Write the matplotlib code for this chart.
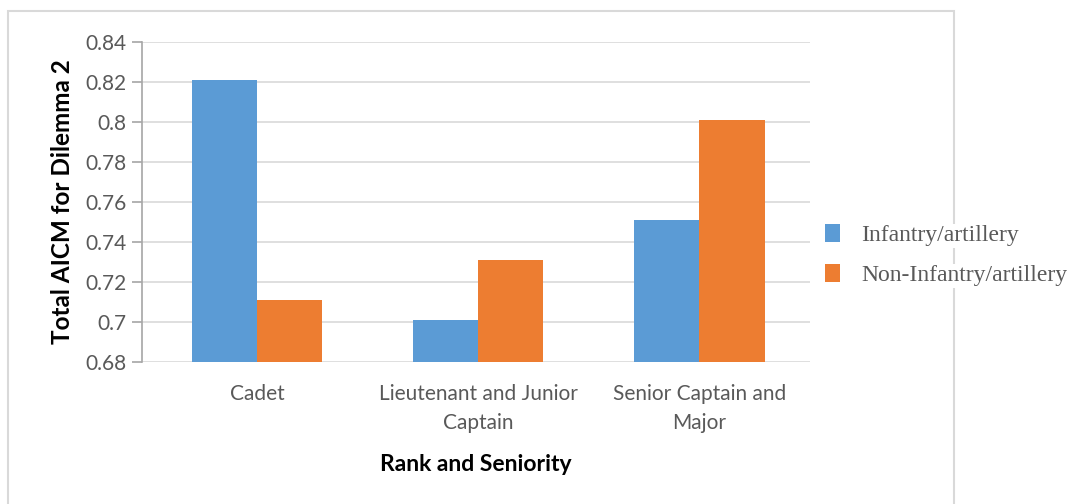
import numpy as np
import matplotlib.pyplot as plt
from matplotlib.patches import Rectangle

# values
categories = ['Cadet', 'Lieutenant and Junior\nCaptain', 'Senior Captain and\nMajor']
infantry = [0.821, 0.701, 0.751]
non_infantry = [0.711, 0.731, 0.801]
series_names = ['Infantry/artillery', 'Non-Infantry/artillery']
y_ticks = [0.68, 0.70, 0.72, 0.74, 0.76, 0.78, 0.80, 0.82, 0.84]
y_tick_labels = ['0.68', '0.7', '0.72', '0.74', '0.76', '0.78', '0.8', '0.82', '0.84']

blue = '#5b9bd5'
orange = '#ed7d31'
grey_text = '#595959'

plt.rcParams['font.family'] = ['Lato', 'DejaVu Sans']

fig = plt.figure(figsize=(10.74, 5.04), dpi=100)
ax = fig.add_axes([142 / 1074, 1 - 362 / 504, 668 / 1074, 320 / 504])

x = np.arange(len(categories))
w = 0.295
b1 = ax.bar(x - w / 2, infantry, w, color=blue, label=series_names[0], zorder=3)
b2 = ax.bar(x + w / 2, non_infantry, w, color=orange, label=series_names[1], zorder=3)

ax.set_xlim(-0.52, 2.5)
ax.set_ylim(0.68, 0.84)
ax.set_yticks(y_ticks)
ax.set_yticklabels(y_tick_labels)
ax.yaxis.grid(True, color='#d9d9d9', linewidth=1.2, zorder=0)
ax.set_axisbelow(True)

for s in ['top', 'right', 'bottom']:
    ax.spines[s].set_visible(False)
ax.spines['left'].set_color('#a6a6a6')
ax.spines['left'].set_linewidth(1.2)

ax.tick_params(axis='y', colors='#a6a6a6', length=7, width=1.2, labelsize=15,
               labelcolor=grey_text, pad=4)
ax.set_xticks(x)
ax.set_xticklabels(categories, fontsize=15, color=grey_text, linespacing=1.55)
ax.tick_params(axis='x', length=0, pad=16)

ax.set_ylabel('Total AICM for Dilemma 2', fontsize=17.5, fontweight='bold', labelpad=8)
ax.set_xlabel('Rank and Seniority', fontsize=16.5, fontweight='bold', labelpad=15)

# light frame around the chart
fig.patches.append(Rectangle((8 / 1074, -0.02), 946 / 1074, 1 - 11 / 504 + 0.02,
                             transform=fig.transFigure, fill=False,
                             edgecolor='#d9d9d9', linewidth=1.5, zorder=0))

leg = fig.legend(handles=[b1, b2], labels=series_names, loc='upper left',
                 bbox_to_anchor=(825 / 1074, 1 - 224 / 504), frameon=False,
                 borderpad=0, borderaxespad=0, handlelength=0.65, handleheight=0.8,
                 handletextpad=0.9, labelspacing=0.75,
                 prop={'family': 'Liberation Serif', 'size': 17})
for t in leg.get_texts():
    t.set_color(grey_text)
    t.set_bbox(dict(facecolor='white', edgecolor='none', pad=1))

fig.savefig('out.png', dpi=100)
